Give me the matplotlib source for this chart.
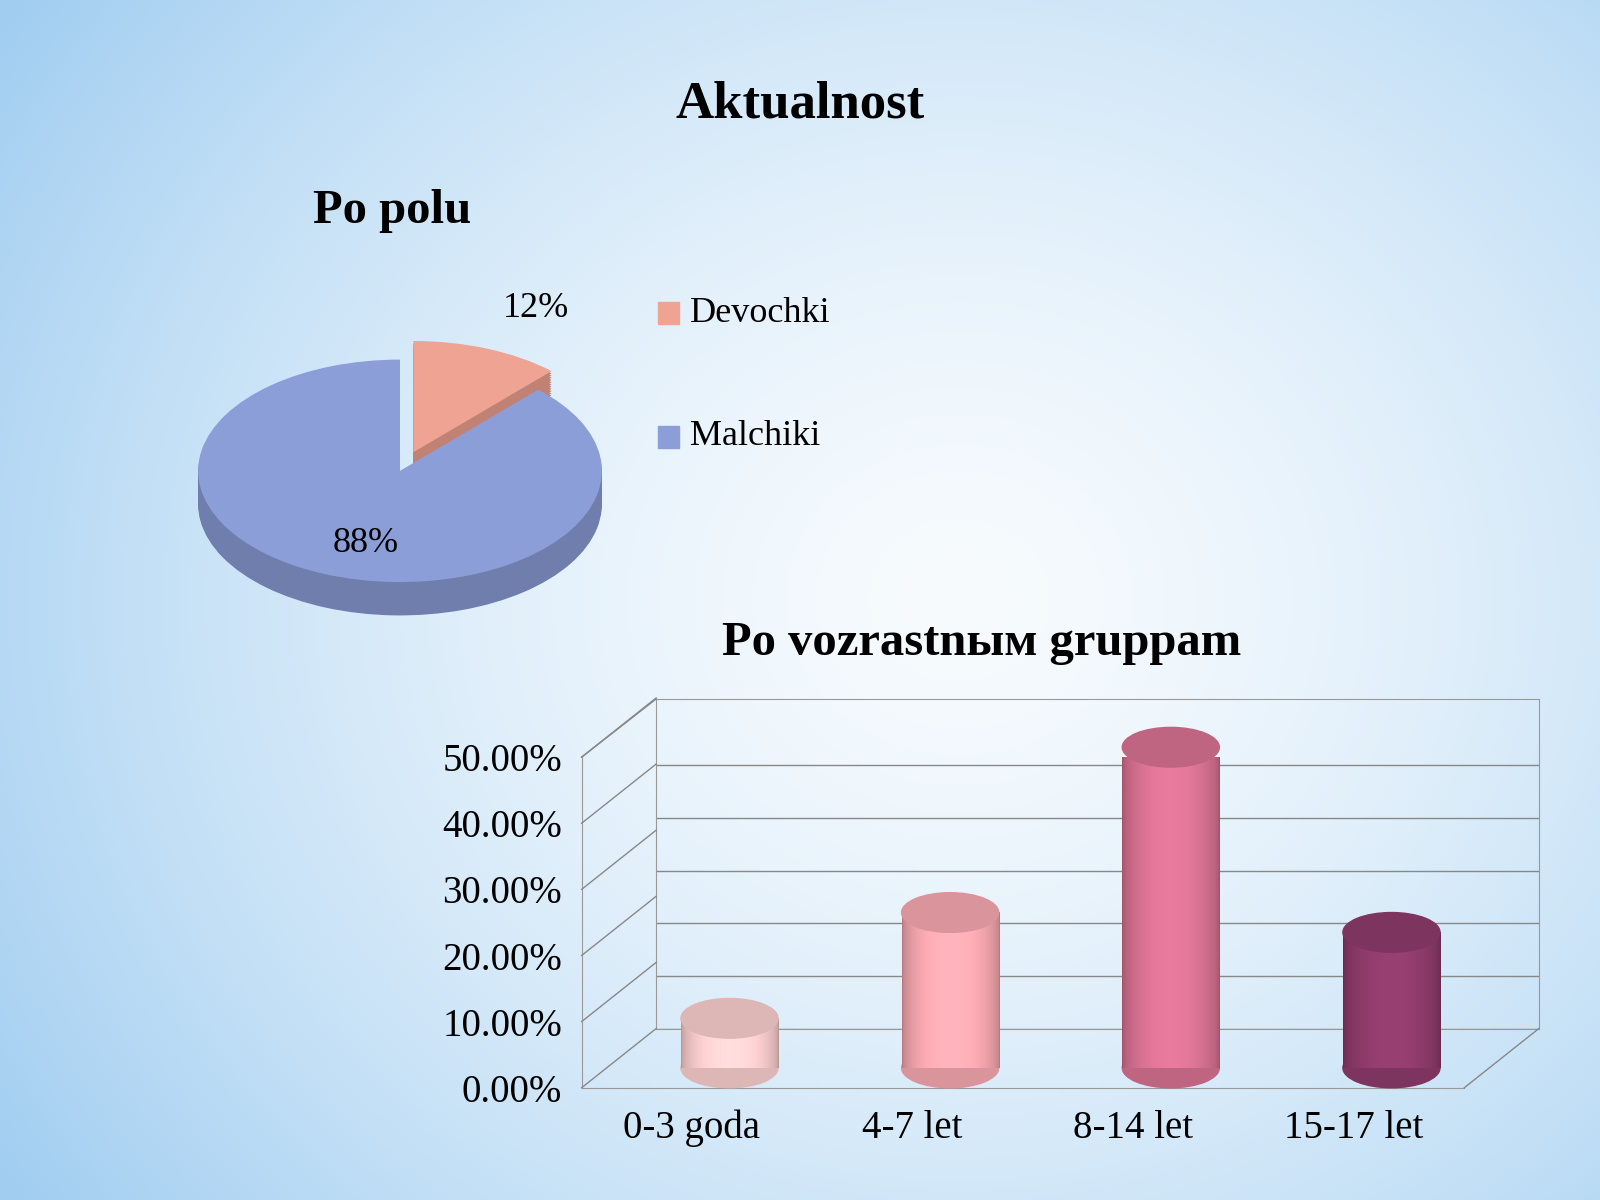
import numpy as np
import matplotlib.pyplot as plt
from matplotlib.patches import Ellipse, Rectangle
from matplotlib.colors import to_rgb

plt.rcParams['font.family'] = ['Liberation Serif', 'DejaVu Serif']

# data
pie_labels = ["Devochki", "Malchiki"]
pie_values = [12, 88]
pie_colors = ["#EFA392", "#8C9ED8"]

age_groups = ["0-3 goda", "4-7 let", "8-14 let", "15-17 let"]
age_values = [0.08, 0.24, 0.49, 0.21]
bar_colors = ["#F6CACA", "#F2A4AC", "#D4708F", "#8B3A68"]
yticks = [0, 0.1, 0.2, 0.3, 0.4, 0.5]

W, H = 1568, 1176
def F(x, y):
    return x / W, 1 - y / H

fig = plt.figure(figsize=(16, 12), dpi=100)

# background gradient
bg = fig.add_axes([0, 0, 1, 1])
yy, xx = np.mgrid[0:1:300j, 0:1:400j]
d = np.clip(np.sqrt(((xx - 0.6) / 0.75) ** 2 + ((yy - 0.5) / 0.9) ** 2), 0, 1)
c0, c1 = np.array(to_rgb("#F7FBFE")), np.array(to_rgb("#9CCBF0"))
img = c0 + (c1 - c0) * d[..., None] ** 1.5
bg.imshow(img, extent=[0, 1, 0, 1], aspect="auto", origin="lower")
bg.axis("off")

fig.text(*F(784, 102), "Aktualnost", fontsize=38, fontweight="bold", ha="center", va="center")
fig.text(*F(384, 207), "Po polu", fontsize=35, fontweight="bold", ha="center", va="center")
fig.text(*F(962, 630), "Po vozrastnым gruppam", fontsize=35, fontweight="bold", ha="center", va="center")

# pie with fake depth
cx, cy = F(392, 462)
pa = fig.add_axes([cx - 0.164, cy - 0.12, 0.328, 0.241])
depth = 0.3
for k, off in enumerate(np.linspace(-depth, 0, 16)):
    cols = pie_colors if k == 15 else [tuple(0.8 * np.array(to_rgb(c))) for c in pie_colors]
    wedges, _ = pa.pie(pie_values, colors=cols, startangle=90, counterclock=False,
                       explode=(0.18, 0.0), radius=1.0, center=(0, off))
pa.set_xlim(-1.3, 1.3)
pa.set_ylim(-1.3, 1.3)
pa.set_aspect("auto")
pa.axis("off")

fig.text(*F(525, 302), f"{pie_values[0]}%", fontsize=26, ha="center", va="center")
fig.text(*F(358, 533), f"{pie_values[1]}%", fontsize=26, ha="center", va="center")
for (ly, lab, col) in [(307, pie_labels[0], pie_colors[0]), (428, pie_labels[1], pie_colors[1])]:
    x0, y0 = F(645, ly + 11)
    fig.patches.append(Rectangle((x0, y0), 20 / W, 22 / H, color=col, transform=fig.transFigure))
    fig.text(*F(676, ly), lab, fontsize=26, ha="left", va="center")

# back wall
bl, bb = F(643, 1008)
br, bt = F(1508, 685)
back = fig.add_axes([bl, bb, br - bl, bt - bb])
back.set_ylim(0, 0.626)
back.set_yticks(yticks)
back.set_xticks([])
back.tick_params(left=False, labelleft=False)
back.grid(axis="y", color="#888888", lw=1)
back.patch.set_alpha(0)
for s in back.spines.values():
    s.set_color("#999999")

# front axes
fl, fb = F(570, 1066)
fr, ft = F(1435, 742)
ax = fig.add_axes([fl, fb, fr - fl, ft - fb])
ax.set_xlim(-0.5, 3.5)
ax.set_ylim(0, 0.5)
ax.patch.set_alpha(0)
ax.set_yticks(yticks)
ax.set_yticklabels([f"{v * 100:.2f}%" for v in yticks], fontsize=28)
ax.set_xticks(range(len(age_groups)))
ax.set_xticklabels(age_groups, fontsize=28)
ax.tick_params(length=0, pad=16, axis="x")
ax.tick_params(length=0, pad=14, axis="y")
for s in ["top", "right"]:
    ax.spines[s].set_visible(False)
for s in ["left", "bottom"]:
    ax.spines[s].set_color("#999999")

# diagonal depth lines for the floor and side wall
dx, dy = (643 - 570) / W, (1066 - 1008) / H
for v in yticks:
    x0, y0 = fig.transFigure.inverted().transform(ax.transData.transform((-0.5, v)))
    fig.add_artist(plt.Line2D([x0, x0 + dx], [y0, y0 + dy], color="#888888", lw=1))
x0, y0 = fig.transFigure.inverted().transform(ax.transData.transform((3.5, 0)))
fig.add_artist(plt.Line2D([x0, x0 + dx], [y0, y0 + dy], color="#888888", lw=1))
fig.add_artist(plt.Line2D([fl, fl + dx], [ft + 0.0, bt], color="#888888", lw=1))

# cylinders (sitting raised at mid-depth)
bw, cap, base = 0.44, 0.06, 0.03
for i, (v, col) in enumerate(zip(age_values, bar_colors)):
    xc = i + 0.17
    top = v + base - 0.005
    rgb = np.array(to_rgb(col))
    shade = np.linspace(0, 1, 100)
    prof = 0.75 + 0.35 * np.sin(np.pi * shade) ** 0.5
    grad = np.clip(rgb[None, None, :] * prof[None, :, None], 0, 1)
    ax.imshow(grad, extent=[xc - bw / 2, xc + bw / 2, base, top], aspect="auto",
              origin="lower", zorder=3)
    ax.add_patch(Ellipse((xc, base), bw, cap, color=tuple(rgb * 0.9), zorder=2.9, clip_on=False))
    ax.add_patch(Ellipse((xc, top), bw, cap, color=tuple(rgb * 0.9), zorder=4, clip_on=False))
ax.set_xlim(-0.5, 3.5)
ax.set_ylim(0, 0.5)

fig.savefig("out.png", dpi=100)
